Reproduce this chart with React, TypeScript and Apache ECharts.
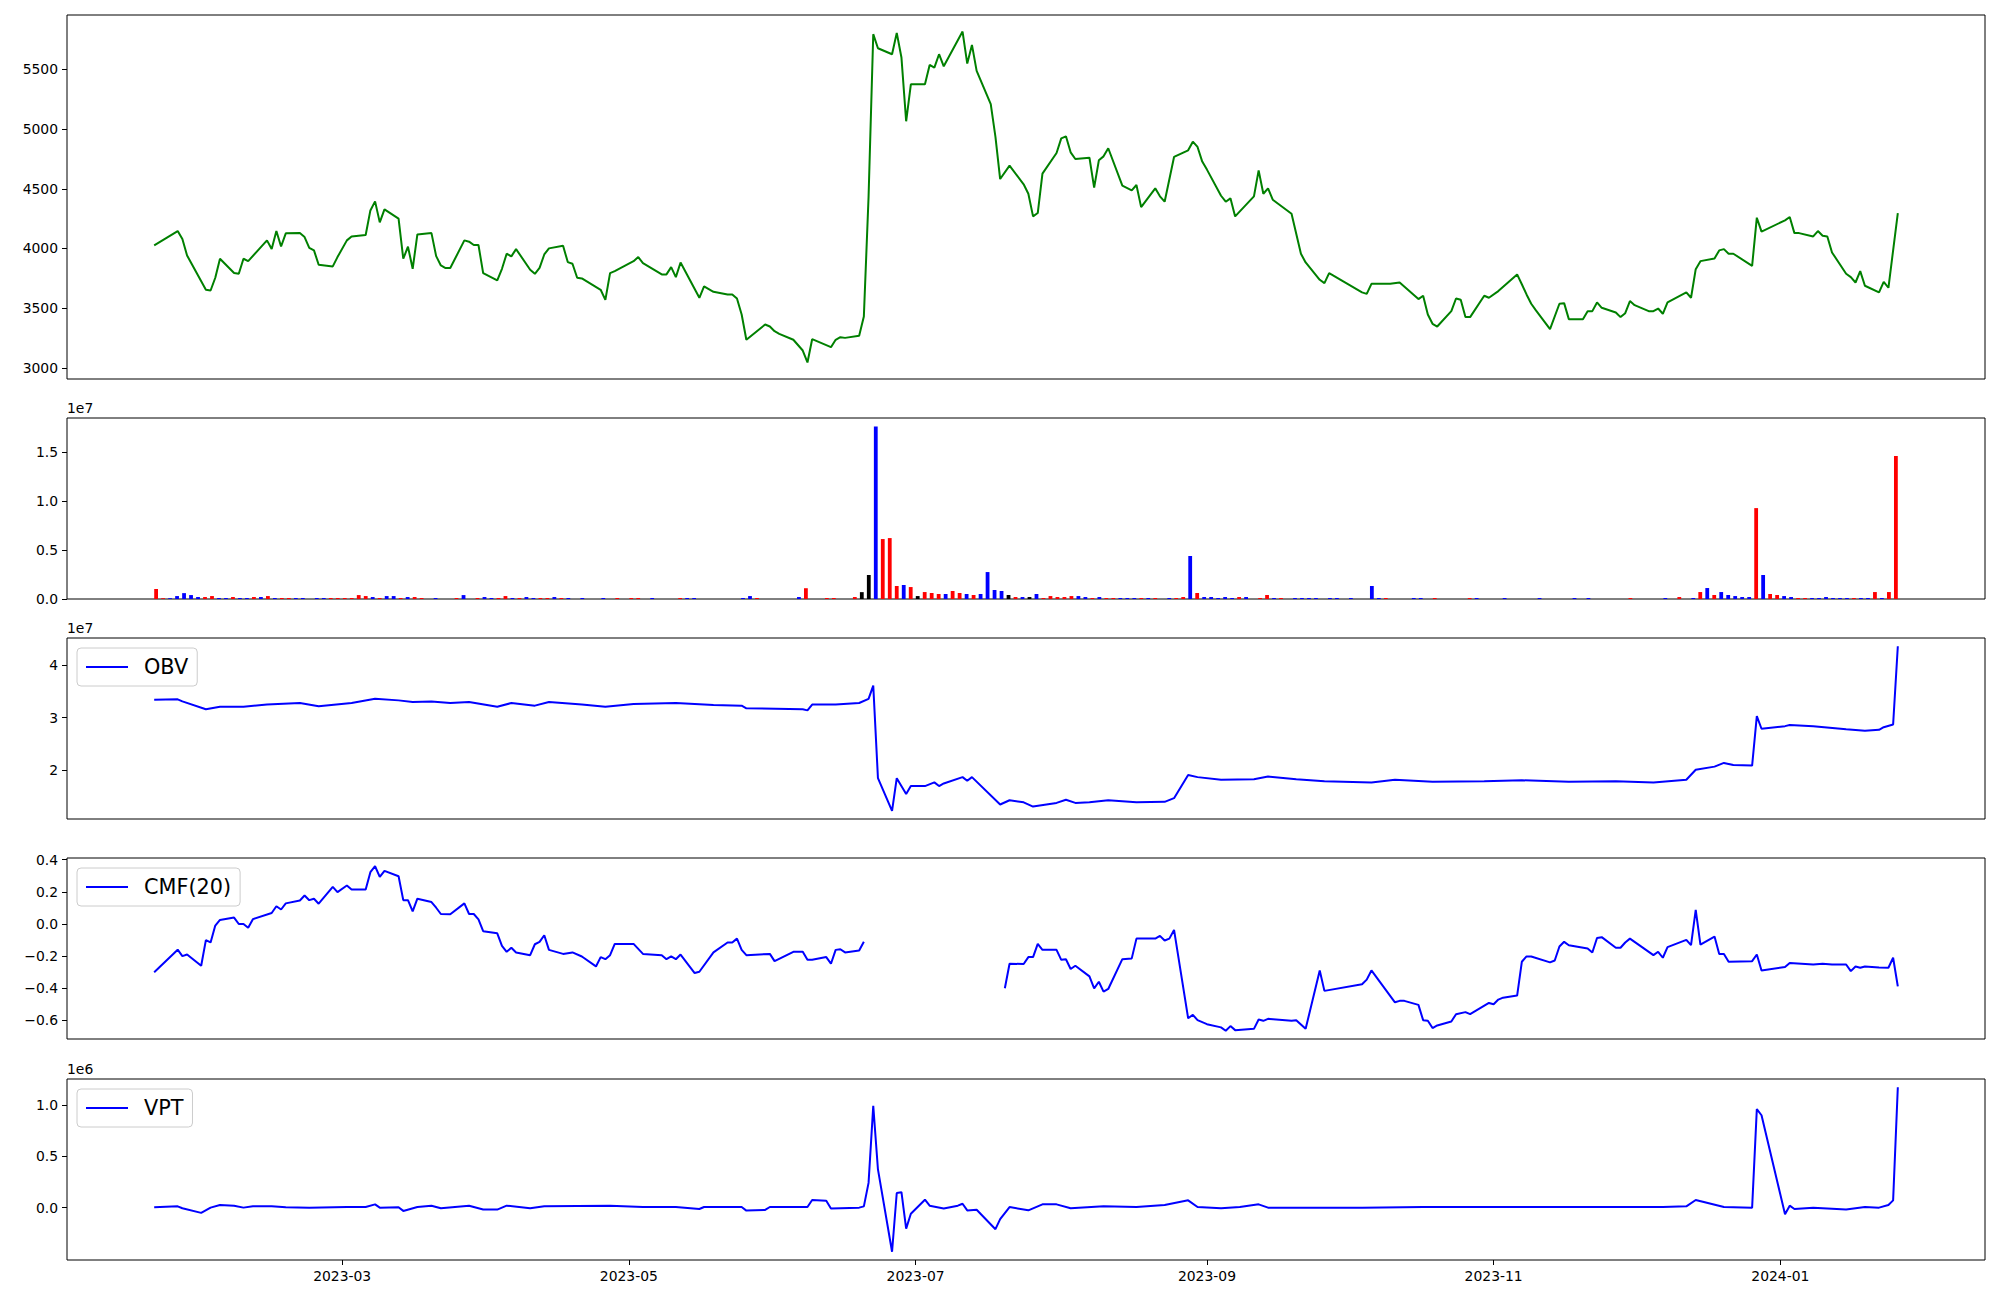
import React, { useEffect, useRef } from 'react';
import * as echarts from 'echarts';

const FONT = 'DejaVu Sans';

// ---------- DATA ----------
const PRICE: [string, number][] = [
  ['2023-01-20', 4026], ['2023-01-25', 4146], ['2023-01-26', 4079], ['2023-01-27', 3942], ['2023-01-31', 3654],
  ['2023-02-01', 3648], ['2023-02-02', 3755], ['2023-02-03', 3914], ['2023-02-06', 3794], ['2023-02-07', 3788],
  ['2023-02-08', 3914], ['2023-02-09', 3894], ['2023-02-13', 4068], ['2023-02-14', 3995], ['2023-02-15', 4146],
  ['2023-02-16', 4017], ['2023-02-17', 4127], ['2023-02-20', 4129], ['2023-02-21', 4096], ['2023-02-22', 4006],
  ['2023-02-23', 3984], ['2023-02-24', 3864], ['2023-02-27', 3850], ['2023-02-28', 3928], ['2023-03-02', 4068],
  ['2023-03-03', 4101], ['2023-03-06', 4113], ['2023-03-07', 4319], ['2023-03-08', 4395], ['2023-03-09', 4219],
  ['2023-03-10', 4328], ['2023-03-13', 4250], ['2023-03-14', 3914], ['2023-03-15', 4015], ['2023-03-16', 3830],
  ['2023-03-17', 4118], ['2023-03-20', 4129], ['2023-03-21', 3936], ['2023-03-22', 3858], ['2023-03-23', 3836],
  ['2023-03-24', 3836], ['2023-03-27', 4068], ['2023-03-28', 4057], ['2023-03-29', 4029], ['2023-03-30', 4029],
  ['2023-03-31', 3794], ['2023-04-03', 3732], ['2023-04-04', 3830], ['2023-04-05', 3956], ['2023-04-06', 3934],
  ['2023-04-07', 3995], ['2023-04-10', 3822], ['2023-04-11', 3788], ['2023-04-12', 3838], ['2023-04-13', 3950],
  ['2023-04-14', 4001], ['2023-04-17', 4023], ['2023-04-18', 3886], ['2023-04-19', 3872], ['2023-04-20', 3755],
  ['2023-04-21', 3749], ['2023-04-25', 3654], ['2023-04-26', 3570], ['2023-04-27', 3794], ['2023-04-28', 3811],
  ['2023-05-02', 3894], ['2023-05-03', 3928], ['2023-05-04', 3878], ['2023-05-08', 3783], ['2023-05-09', 3783],
  ['2023-05-10', 3844], ['2023-05-11', 3760], ['2023-05-12', 3883], ['2023-05-16', 3587], ['2023-05-17', 3682],
  ['2023-05-19', 3637], ['2023-05-22', 3615], ['2023-05-23', 3615], ['2023-05-24', 3581], ['2023-05-25', 3447],
  ['2023-05-26', 3235], ['2023-05-30', 3363], ['2023-05-31', 3346], ['2023-06-01', 3307], ['2023-06-02', 3285],
  ['2023-06-05', 3235], ['2023-06-07', 3145], ['2023-06-08', 3045], ['2023-06-09', 3240], ['2023-06-13', 3173],
  ['2023-06-14', 3235], ['2023-06-15', 3257], ['2023-06-16', 3251], ['2023-06-19', 3268], ['2023-06-20', 3430],
  ['2023-06-21', 4431], ['2023-06-22', 5796], ['2023-06-23', 5678], ['2023-06-26', 5628], ['2023-06-27', 5807],
  ['2023-06-28', 5600], ['2023-06-29', 5066], ['2023-06-30', 5376], ['2023-07-03', 5376], ['2023-07-04', 5538],
  ['2023-07-05', 5516], ['2023-07-06', 5628], ['2023-07-07', 5527], ['2023-07-11', 5818], ['2023-07-12', 5550],
  ['2023-07-13', 5706], ['2023-07-14', 5488], ['2023-07-17', 5209], ['2023-07-18', 4935], ['2023-07-19', 4582],
  ['2023-07-21', 4694], ['2023-07-24', 4538], ['2023-07-25', 4459], ['2023-07-26', 4269], ['2023-07-27', 4297],
  ['2023-07-28', 4627], ['2023-07-31', 4800], ['2023-08-01', 4923], ['2023-08-02', 4940], ['2023-08-03', 4806],
  ['2023-08-04', 4750], ['2023-08-07', 4761], ['2023-08-08', 4510], ['2023-08-09', 4739], ['2023-08-10', 4772],
  ['2023-08-11', 4840], ['2023-08-14', 4526], ['2023-08-16', 4487], ['2023-08-17', 4532], ['2023-08-18', 4347],
  ['2023-08-21', 4504], ['2023-08-22', 4437], ['2023-08-23', 4392], ['2023-08-25', 4767], ['2023-08-28', 4823],
  ['2023-08-29', 4895], ['2023-08-30', 4851], ['2023-08-31', 4728], ['2023-09-01', 4661], ['2023-09-04', 4442],
  ['2023-09-05', 4392], ['2023-09-06', 4420], ['2023-09-07', 4269], ['2023-09-11', 4437], ['2023-09-12', 4655],
  ['2023-09-13', 4459], ['2023-09-14', 4504], ['2023-09-15', 4409], ['2023-09-19', 4291], ['2023-09-21', 3956],
  ['2023-09-22', 3883], ['2023-09-25', 3738], ['2023-09-26', 3710], ['2023-09-27', 3794], ['2023-10-04', 3632],
  ['2023-10-05', 3620], ['2023-10-06', 3704], ['2023-10-10', 3704], ['2023-10-12', 3715], ['2023-10-16', 3576],
  ['2023-10-17', 3604], ['2023-10-18', 3447], ['2023-10-19', 3369], ['2023-10-20', 3346], ['2023-10-23', 3475],
  ['2023-10-24', 3581], ['2023-10-25', 3570], ['2023-10-26', 3425], ['2023-10-27', 3425], ['2023-10-30', 3604],
  ['2023-10-31', 3587], ['2023-11-02', 3643], ['2023-11-06', 3783], ['2023-11-07', 3700], ['2023-11-08', 3615],
  ['2023-11-09', 3537], ['2023-11-10', 3481], ['2023-11-13', 3324], ['2023-11-15', 3537], ['2023-11-16', 3542],
  ['2023-11-17', 3408], ['2023-11-20', 3408], ['2023-11-21', 3475], ['2023-11-22', 3475], ['2023-11-23', 3548],
  ['2023-11-24', 3503], ['2023-11-27', 3464], ['2023-11-28', 3425], ['2023-11-29', 3458], ['2023-11-30', 3559],
  ['2023-12-01', 3525], ['2023-12-04', 3475], ['2023-12-05', 3475], ['2023-12-06', 3497], ['2023-12-07', 3453],
  ['2023-12-08', 3548], ['2023-12-12', 3632], ['2023-12-13', 3587], ['2023-12-14', 3827], ['2023-12-15', 3894],
  ['2023-12-18', 3917], ['2023-12-19', 3984], ['2023-12-20', 3995], ['2023-12-21', 3956], ['2023-12-22', 3956],
  ['2023-12-26', 3855], ['2023-12-27', 4258], ['2023-12-28', 4141], ['2024-01-02', 4236], ['2024-01-03', 4264],
  ['2024-01-04', 4129], ['2024-01-05', 4129], ['2024-01-08', 4101], ['2024-01-09', 4146], ['2024-01-10', 4107],
  ['2024-01-11', 4101], ['2024-01-12', 3967], ['2024-01-15', 3788], ['2024-01-16', 3760], ['2024-01-17', 3715],
  ['2024-01-18', 3810], ['2024-01-19', 3688], ['2024-01-22', 3632], ['2024-01-23', 3721], ['2024-01-24', 3671],
  ['2024-01-26', 4297],
];

const FIRST_DAY = '2023-01-20';
const LAST_DAY = '2024-01-26';
const TRADING_DAY_COUNT = 250; // sessions from FIRST_DAY to LAST_DAY (volume panel is drawn by session index)

// Volume bars: [session index, volume, colour key]
const VOLUME: [number, number, string][] = [
  [0, 10.2e5, 'r'], [1, 0.8e5, 'r'], [2, 0.8e5, 'b'], [3, 3e5, 'b'], [4, 6e5, 'b'], [5, 4e5, 'b'], [6, 2e5, 'b'],
  [7, 2e5, 'r'], [8, 3e5, 'r'], [9, 1e5, 'b'], [10, 1e5, 'b'], [11, 2e5, 'r'], [12, 1e5, 'b'], [13, 1e5, 'b'],
  [14, 2e5, 'r'], [15, 2e5, 'b'], [16, 3e5, 'r'], [17, 1e5, 'b'], [18, 1e5, 'r'], [19, 1e5, 'r'], [20, 1e5, 'b'],
  [21, 1e5, 'b'], [23, 1e5, 'b'], [24, 1e5, 'b'], [25, 1e5, 'r'], [26, 1e5, 'r'], [27, 1e5, 'r'], [28, 1e5, 'r'],
  [29, 4e5, 'r'], [30, 3e5, 'r'], [31, 2e5, 'b'], [32, 1e5, 'r'], [33, 3e5, 'b'], [34, 3e5, 'b'], [35, 1e5, 'r'],
  [36, 2e5, 'b'], [37, 2e5, 'r'], [38, 1e5, 'r'], [40, 1e5, 'b'], [43, 1e5, 'r'], [44, 4e5, 'b'], [46, 1e5, 'r'],
  [47, 2e5, 'b'], [48, 1e5, 'b'], [49, 1e5, 'r'], [50, 3e5, 'r'], [51, 1e5, 'b'], [52, 1e5, 'r'], [53, 2e5, 'b'],
  [54, 1e5, 'b'], [55, 1e5, 'r'], [56, 1e5, 'r'], [57, 2e5, 'b'], [58, 1e5, 'r'], [59, 1e5, 'b'], [61, 1e5, 'b'],
  [64, 1e5, 'b'], [66, 1e5, 'r'], [68, 1e5, 'r'], [69, 1e5, 'r'], [71, 1e5, 'b'], [75, 1e5, 'r'], [76, 1e5, 'b'],
  [77, 1e5, 'b'], [84, 1e5, 'b'], [85, 3e5, 'b'], [86, 1e5, 'r'], [92, 2e5, 'b'], [93, 11e5, 'r'], [96, 1e5, 'r'],
  [97, 1e5, 'r'], [100, 2e5, 'r'], [101, 7e5, 'k'], [102, 24.5e5, 'k'], [103, 176e5, 'b'], [104, 61.2e5, 'r'],
  [105, 62.2e5, 'r'], [106, 13.3e5, 'r'], [107, 14.3e5, 'b'], [108, 12.2e5, 'r'], [109, 3e5, 'k'], [110, 7.1e5, 'r'],
  [111, 6.1e5, 'r'], [112, 5.1e5, 'r'], [113, 5.1e5, 'b'], [114, 8.2e5, 'r'], [115, 6.1e5, 'r'], [116, 5.1e5, 'b'],
  [117, 4.1e5, 'r'], [118, 5.1e5, 'b'], [119, 27.5e5, 'b'], [120, 9.2e5, 'b'], [121, 8.2e5, 'b'], [122, 4.1e5, 'k'],
  [123, 2e5, 'r'], [124, 2e5, 'b'], [125, 2e5, 'k'], [126, 5.1e5, 'b'], [127, 1e5, 'r'], [128, 3e5, 'r'],
  [129, 2e5, 'r'], [130, 2e5, 'r'], [131, 3e5, 'r'], [132, 3e5, 'b'], [133, 2e5, 'b'], [134, 1e5, 'r'],
  [135, 2e5, 'b'], [136, 1e5, 'r'], [137, 1e5, 'r'], [138, 1e5, 'b'], [139, 1e5, 'b'], [140, 1e5, 'b'],
  [141, 1e5, 'r'], [142, 1e5, 'b'], [143, 1e5, 'r'], [145, 1e5, 'b'], [146, 1e5, 'r'], [147, 2e5, 'r'],
  [148, 43.9e5, 'b'], [149, 6.1e5, 'r'], [150, 2e5, 'b'], [151, 2e5, 'b'], [152, 1e5, 'b'], [153, 2e5, 'b'],
  [154, 1e5, 'b'], [155, 2e5, 'r'], [156, 2e5, 'b'], [158, 1e5, 'r'], [159, 4.1e5, 'r'], [160, 1e5, 'b'],
  [161, 1e5, 'r'], [163, 1e5, 'b'], [164, 1e5, 'b'], [165, 1e5, 'b'], [166, 1e5, 'b'], [168, 1e5, 'b'],
  [169, 1e5, 'b'], [171, 1e5, 'b'], [174, 13.3e5, 'b'], [175, 1e5, 'b'], [176, 1e5, 'r'], [180, 1e5, 'b'],
  [181, 1e5, 'b'], [183, 1e5, 'r'], [188, 1e5, 'r'], [189, 1e5, 'b'], [193, 1e5, 'b'], [198, 1e5, 'b'],
  [203, 1e5, 'b'], [205, 1e5, 'b'], [211, 1e5, 'r'], [216, 1e5, 'b'], [218, 2e5, 'r'], [220, 1e5, 'b'],
  [221, 7.1e5, 'r'], [222, 11.2e5, 'b'], [223, 4.1e5, 'r'], [224, 7.1e5, 'b'], [225, 4.1e5, 'b'], [226, 3e5, 'b'],
  [227, 2e5, 'b'], [228, 2e5, 'b'], [229, 92.8e5, 'r'], [230, 24.5e5, 'b'], [231, 5.1e5, 'r'], [232, 4.1e5, 'r'],
  [233, 3e5, 'b'], [234, 2e5, 'b'], [235, 1e5, 'r'], [236, 1e5, 'r'], [237, 1e5, 'b'], [238, 1e5, 'b'],
  [239, 2e5, 'b'], [240, 1e5, 'b'], [241, 1e5, 'b'], [242, 1e5, 'b'], [243, 1e5, 'r'], [244, 1e5, 'b'],
  [245, 1e5, 'b'], [246, 7.1e5, 'r'], [247, 1e5, 'b'], [248, 7.1e5, 'r'], [249, 145.9e5, 'r'],
];
const VOLUME_COLORS: Record<string, string> = { r: '#ff0000', b: '#0000ff', k: '#000000' };

const OBV: [string, number][] = [
  ['2023-01-20', 3.34e7], ['2023-01-25', 3.35e7], ['2023-01-26', 3.31e7], ['2023-01-31', 3.16e7], ['2023-02-03', 3.21e7],
  ['2023-02-08', 3.21e7], ['2023-02-13', 3.25e7], ['2023-02-20', 3.28e7], ['2023-02-24', 3.22e7], ['2023-03-03', 3.28e7],
  ['2023-03-08', 3.36e7], ['2023-03-13', 3.33e7], ['2023-03-16', 3.30e7], ['2023-03-20', 3.31e7], ['2023-03-24', 3.28e7],
  ['2023-03-28', 3.30e7], ['2023-04-03', 3.21e7], ['2023-04-06', 3.28e7], ['2023-04-11', 3.23e7], ['2023-04-14', 3.30e7],
  ['2023-04-21', 3.25e7], ['2023-04-26', 3.21e7], ['2023-05-02', 3.26e7], ['2023-05-11', 3.28e7], ['2023-05-19', 3.24e7],
  ['2023-05-25', 3.23e7], ['2023-05-26', 3.18e7], ['2023-06-07', 3.16e7], ['2023-06-08', 3.14e7], ['2023-06-09', 3.25e7],
  ['2023-06-14', 3.25e7], ['2023-06-19', 3.28e7], ['2023-06-21', 3.36e7], ['2023-06-22', 3.61e7], ['2023-06-23', 1.85e7],
  ['2023-06-26', 1.23e7], ['2023-06-27', 1.85e7], ['2023-06-29', 1.55e7], ['2023-06-30', 1.70e7], ['2023-07-03', 1.70e7],
  ['2023-07-05', 1.77e7], ['2023-07-06', 1.70e7], ['2023-07-07', 1.75e7], ['2023-07-11', 1.87e7], ['2023-07-12', 1.80e7],
  ['2023-07-13', 1.87e7], ['2023-07-19', 1.35e7], ['2023-07-21', 1.43e7], ['2023-07-24', 1.39e7], ['2023-07-26', 1.31e7],
  ['2023-07-31', 1.38e7], ['2023-08-02', 1.44e7], ['2023-08-04', 1.38e7], ['2023-08-07', 1.39e7], ['2023-08-11', 1.43e7],
  ['2023-08-17', 1.39e7], ['2023-08-23', 1.40e7], ['2023-08-25', 1.47e7], ['2023-08-28', 1.91e7], ['2023-08-30', 1.87e7],
  ['2023-09-04', 1.82e7], ['2023-09-11', 1.83e7], ['2023-09-14', 1.88e7], ['2023-09-20', 1.83e7], ['2023-09-26', 1.79e7],
  ['2023-10-06', 1.77e7], ['2023-10-11', 1.82e7], ['2023-10-19', 1.78e7], ['2023-10-30', 1.79e7], ['2023-11-07', 1.81e7],
  ['2023-11-17', 1.78e7], ['2023-11-27', 1.79e7], ['2023-12-05', 1.77e7], ['2023-12-12', 1.82e7], ['2023-12-14', 2.01e7],
  ['2023-12-18', 2.07e7], ['2023-12-20', 2.14e7], ['2023-12-22', 2.10e7], ['2023-12-26', 2.09e7], ['2023-12-27', 3.03e7],
  ['2023-12-28', 2.79e7], ['2024-01-02', 2.84e7], ['2024-01-03', 2.86e7], ['2024-01-08', 2.84e7], ['2024-01-15', 2.78e7],
  ['2024-01-19', 2.75e7], ['2024-01-22', 2.77e7], ['2024-01-23', 2.82e7], ['2024-01-25', 2.87e7], ['2024-01-26', 4.36e7],
];

const CMF_PART1: [string, number][] = [
  ['2023-01-20', -0.30], ['2023-01-25', -0.16], ['2023-01-26', -0.20], ['2023-01-27', -0.19], ['2023-01-30', -0.26],
  ['2023-01-31', -0.10], ['2023-02-01', -0.115], ['2023-02-02', -0.01], ['2023-02-03', 0.025], ['2023-02-06', 0.04],
  ['2023-02-07', 0.0], ['2023-02-08', 0.0], ['2023-02-09', -0.023], ['2023-02-10', 0.03], ['2023-02-14', 0.068],
  ['2023-02-15', 0.11], ['2023-02-16', 0.09], ['2023-02-17', 0.128], ['2023-02-20', 0.146], ['2023-02-21', 0.177],
  ['2023-02-22', 0.148], ['2023-02-23', 0.157], ['2023-02-24', 0.126], ['2023-02-27', 0.231], ['2023-02-28', 0.198],
  ['2023-03-02', 0.239], ['2023-03-03', 0.214], ['2023-03-06', 0.214], ['2023-03-07', 0.322], ['2023-03-08', 0.359],
  ['2023-03-09', 0.293], ['2023-03-10', 0.330], ['2023-03-13', 0.297], ['2023-03-14', 0.148], ['2023-03-15', 0.148],
  ['2023-03-16', 0.078], ['2023-03-17', 0.157], ['2023-03-20', 0.136], ['2023-03-21', 0.101], ['2023-03-22', 0.062],
  ['2023-03-24', 0.060], ['2023-03-27', 0.128], ['2023-03-28', 0.062], ['2023-03-29', 0.062], ['2023-03-30', 0.029],
  ['2023-03-31', -0.045], ['2023-04-03', -0.058], ['2023-04-04', -0.136], ['2023-04-05', -0.173], ['2023-04-06', -0.148],
  ['2023-04-07', -0.177], ['2023-04-10', -0.194], ['2023-04-11', -0.126], ['2023-04-12', -0.111], ['2023-04-13', -0.070],
  ['2023-04-14', -0.161], ['2023-04-17', -0.186], ['2023-04-19', -0.177], ['2023-04-21', -0.202], ['2023-04-24', -0.264],
  ['2023-04-25', -0.206], ['2023-04-26', -0.219], ['2023-04-27', -0.194], ['2023-04-28', -0.124], ['2023-05-02', -0.124],
  ['2023-05-04', -0.186], ['2023-05-08', -0.194], ['2023-05-09', -0.219], ['2023-05-10', -0.202], ['2023-05-11', -0.219],
  ['2023-05-12', -0.190], ['2023-05-15', -0.305], ['2023-05-16', -0.297], ['2023-05-19', -0.177], ['2023-05-22', -0.115],
  ['2023-05-23', -0.115], ['2023-05-24', -0.091], ['2023-05-25', -0.161], ['2023-05-26', -0.194], ['2023-05-31', -0.186],
  ['2023-06-01', -0.231], ['2023-06-05', -0.173], ['2023-06-07', -0.173], ['2023-06-08', -0.223], ['2023-06-09', -0.223],
  ['2023-06-12', -0.206], ['2023-06-13', -0.247], ['2023-06-14', -0.161], ['2023-06-15', -0.157], ['2023-06-16', -0.177],
  ['2023-06-19', -0.165], ['2023-06-20', -0.111],
];

const CMF_PART2: [string, number][] = [
  ['2023-07-20', -0.40], ['2023-07-21', -0.247], ['2023-07-24', -0.249], ['2023-07-25', -0.206], ['2023-07-26', -0.206],
  ['2023-07-27', -0.124], ['2023-07-28', -0.161], ['2023-07-31', -0.161], ['2023-08-01', -0.223], ['2023-08-02', -0.219],
  ['2023-08-03', -0.280], ['2023-08-04', -0.260], ['2023-08-07', -0.326], ['2023-08-08', -0.400], ['2023-08-09', -0.359],
  ['2023-08-10', -0.421], ['2023-08-11', -0.404], ['2023-08-14', -0.219], ['2023-08-16', -0.214], ['2023-08-17', -0.091],
  ['2023-08-21', -0.091], ['2023-08-22', -0.074], ['2023-08-23', -0.103], ['2023-08-24', -0.091], ['2023-08-25', -0.037],
  ['2023-08-28', -0.586], ['2023-08-29', -0.565], ['2023-08-30', -0.598], ['2023-09-01', -0.623], ['2023-09-04', -0.643],
  ['2023-09-05', -0.664], ['2023-09-06', -0.635], ['2023-09-07', -0.660], ['2023-09-11', -0.652], ['2023-09-12', -0.594],
  ['2023-09-13', -0.602], ['2023-09-14', -0.590], ['2023-09-19', -0.602], ['2023-09-20', -0.598], ['2023-09-22', -0.652],
  ['2023-09-25', -0.289], ['2023-09-26', -0.416], ['2023-10-04', -0.375], ['2023-10-05', -0.346], ['2023-10-06', -0.289],
  ['2023-10-11', -0.487], ['2023-10-12', -0.478], ['2023-10-13', -0.478], ['2023-10-16', -0.503], ['2023-10-17', -0.598],
  ['2023-10-18', -0.602], ['2023-10-19', -0.647], ['2023-10-20', -0.631], ['2023-10-23', -0.606], ['2023-10-24', -0.561],
  ['2023-10-26', -0.548], ['2023-10-27', -0.561], ['2023-10-31', -0.491], ['2023-11-01', -0.499], ['2023-11-02', -0.470],
  ['2023-11-03', -0.458], ['2023-11-06', -0.445], ['2023-11-07', -0.235], ['2023-11-08', -0.202], ['2023-11-09', -0.202],
  ['2023-11-13', -0.239], ['2023-11-14', -0.227], ['2023-11-15', -0.140], ['2023-11-16', -0.111], ['2023-11-17', -0.132],
  ['2023-11-21', -0.153], ['2023-11-22', -0.177], ['2023-11-23', -0.087], ['2023-11-24', -0.082], ['2023-11-27', -0.148],
  ['2023-11-28', -0.148], ['2023-11-29', -0.115], ['2023-11-30', -0.091], ['2023-12-05', -0.194], ['2023-12-06', -0.173],
  ['2023-12-07', -0.210], ['2023-12-08', -0.144], ['2023-12-12', -0.099], ['2023-12-13', -0.132], ['2023-12-14', 0.087],
  ['2023-12-15', -0.128], ['2023-12-18', -0.078], ['2023-12-19', -0.186], ['2023-12-20', -0.186], ['2023-12-21', -0.235],
  ['2023-12-26', -0.231], ['2023-12-27', -0.190], ['2023-12-28', -0.289], ['2024-01-02', -0.268], ['2024-01-03', -0.243],
  ['2024-01-08', -0.252], ['2024-01-10', -0.247], ['2024-01-12', -0.252], ['2024-01-15', -0.252], ['2024-01-16', -0.293],
  ['2024-01-17', -0.264], ['2024-01-18', -0.272], ['2024-01-19', -0.264], ['2024-01-22', -0.270], ['2024-01-24', -0.272],
  ['2024-01-25', -0.210], ['2024-01-26', -0.388],
];

const VPT: [string, number][] = [
  ['2023-01-20', 0.003e6], ['2023-01-25', 0.013e6], ['2023-01-26', -0.006e6], ['2023-01-30', -0.051e6], ['2023-02-01', 0.0],
  ['2023-02-03', 0.026e6], ['2023-02-06', 0.019e6], ['2023-02-08', 0.0], ['2023-02-10', 0.013e6], ['2023-02-14', 0.013e6],
  ['2023-02-17', 0.003e6], ['2023-02-22', 0.0], ['2023-03-02', 0.006e6], ['2023-03-06', 0.006e6], ['2023-03-08', 0.032e6],
  ['2023-03-09', 0.0], ['2023-03-13', 0.003e6], ['2023-03-14', -0.032e6], ['2023-03-17', 0.006e6], ['2023-03-20', 0.019e6],
  ['2023-03-22', -0.006e6], ['2023-03-28', 0.019e6], ['2023-03-31', -0.019e6], ['2023-04-03', -0.019e6], ['2023-04-05', 0.019e6],
  ['2023-04-10', -0.006e6], ['2023-04-13', 0.013e6], ['2023-04-27', 0.019e6], ['2023-05-04', 0.006e6], ['2023-05-11', 0.006e6],
  ['2023-05-16', -0.013e6], ['2023-05-17', 0.006e6], ['2023-05-25', 0.006e6], ['2023-05-26', -0.029e6], ['2023-05-30', -0.022e6],
  ['2023-05-31', 0.006e6], ['2023-06-08', 0.006e6], ['2023-06-09', 0.074e6], ['2023-06-12', 0.068e6], ['2023-06-13', -0.008e6],
  ['2023-06-19', 0.0], ['2023-06-20', 0.012e6], ['2023-06-21', 0.241e6], ['2023-06-22', 0.992e6], ['2023-06-23', 0.372e6],
  ['2023-06-26', -0.43e6], ['2023-06-27', 0.143e6], ['2023-06-28', 0.150e6], ['2023-06-29', -0.204e6], ['2023-06-30', -0.060e6],
  ['2023-07-03', 0.077e6], ['2023-07-04', 0.019e6], ['2023-07-07', -0.008e6], ['2023-07-10', 0.019e6], ['2023-07-11', 0.038e6],
  ['2023-07-12', -0.027e6], ['2023-07-14', -0.021e6], ['2023-07-18', -0.210e6], ['2023-07-19', -0.112e6], ['2023-07-21', 0.006e6],
  ['2023-07-25', -0.026e6], ['2023-07-28', 0.032e6], ['2023-07-31', 0.032e6], ['2023-08-03', -0.006e6], ['2023-08-10', 0.013e6],
  ['2023-08-17', 0.006e6], ['2023-08-23', 0.026e6], ['2023-08-28', 0.071e6], ['2023-08-30', 0.006e6], ['2023-09-04', -0.006e6],
  ['2023-09-08', 0.006e6], ['2023-09-12', 0.032e6], ['2023-09-14', 0.0], ['2023-10-04', 0.0], ['2023-10-17', 0.006e6],
  ['2023-11-01', 0.006e6], ['2023-11-10', 0.006e6], ['2023-11-22', 0.006e6], ['2023-12-07', 0.006e6], ['2023-12-12', 0.013e6],
  ['2023-12-14', 0.074e6], ['2023-12-20', 0.006e6], ['2023-12-26', 0.0], ['2023-12-27', 0.96e6], ['2023-12-28', 0.90e6],
  ['2024-01-02', -0.064e6], ['2024-01-03', 0.019e6], ['2024-01-04', -0.013e6], ['2024-01-08', 0.0], ['2024-01-15', -0.019e6],
  ['2024-01-19', 0.006e6], ['2024-01-22', 0.0], ['2024-01-24', 0.026e6], ['2024-01-25', 0.071e6], ['2024-01-26', 1.173e6],
];

const X_TICK_DATES = ['2023-03-01', '2023-05-01', '2023-07-01', '2023-09-01', '2023-11-01', '2024-01-01'];
const PRICE_TICKS = [3000, 3500, 4000, 4500, 5000, 5500];
const VOLUME_TICKS = [0, 0.5e7, 1.0e7, 1.5e7];
const OBV_TICKS = [2e7, 3e7, 4e7];
const CMF_TICKS = [-0.6, -0.4, -0.2, 0.0, 0.2, 0.4];
const VPT_TICKS = [0, 0.5e6, 1.0e6];

// ---------- HELPERS ----------
const toTs = (s: string) => {
  const [y, m, d] = s.split('-').map(Number);
  return new Date(y, m - 1, d).getTime();
};

const limits = (vals: number[]) => {
  const lo = Math.min(...vals);
  const hi = Math.max(...vals);
  const pad = (hi - lo) * 0.05;
  return [lo - pad, hi + pad];
};

const minus = (s: string) => s.replace('-', '\u2212');

function buildOption() {
  const first = toTs(FIRST_DAY);
  const last = toTs(LAST_DAY);
  const span = last - first;
  const xMin = first - span * 0.05;
  const xMax = last + span * 0.05;
  const xTicks = X_TICK_DATES.map(toTs);

  // volume panel: session-index axis with matplotlib-like 5% margins around the bars
  const barHalf = 0.275;
  const idxLo = -barHalf;
  const idxHi = TRADING_DAY_COUNT - 1 + barHalf;
  const idxPad = (idxHi - idxLo) * 0.05;

  const grids = [
    { left: 67, top: 15, width: 1918, height: 364 },
    { left: 67, top: 418, width: 1918, height: 181 },
    { left: 67, top: 638, width: 1918, height: 181 },
    { left: 67, top: 858, width: 1918, height: 181 },
    { left: 67, top: 1079, width: 1918, height: 181 },
  ].map((g) => ({ ...g, show: true, borderColor: '#000', borderWidth: 1, backgroundColor: 'transparent' }));

  const tickFont = { fontFamily: FONT, fontSize: 13.9, color: '#000' };

  const xAxes = grids.map((_, i) => ({
    type: 'value',
    gridIndex: i,
    position: 'bottom',
    min: i === 1 ? idxLo - idxPad : xMin,
    max: i === 1 ? idxHi + idxPad : xMax,
    axisLine: { show: false, onZero: false },
    splitLine: { show: false },
    axisTick: { show: i === 4, length: 5, lineStyle: { color: '#000', width: 1 }, customValues: xTicks },
    axisLabel: {
      show: i === 4,
      customValues: xTicks,
      ...tickFont,
      margin: 9,
      formatter: (v: number) => {
        const d = new Date(v);
        return `${d.getFullYear()}-${String(d.getMonth() + 1).padStart(2, '0')}`;
      },
    },
  }));

  const priceLim = limits(PRICE.map((p) => p[1]));
  const maxVol = Math.max(...VOLUME.map((v) => v[1]));
  const obvLim = limits(OBV.map((p) => p[1]));
  const cmfLim = limits([...CMF_PART1, ...CMF_PART2].map((p) => p[1]));
  const vptLim = limits(VPT.map((p) => p[1]));

  const offsetName = (txt: string) => ({
    name: txt,
    nameLocation: 'end',
    nameGap: 3,
    nameTextStyle: { ...tickFont, align: 'left', verticalAlign: 'bottom' },
  });

  const yAxis = (i: number, lim: number[], ticks: number[], fmt: (v: number) => string, extra: any = {}) => ({
    type: 'value',
    gridIndex: i,
    position: 'left',
    min: lim[0],
    max: lim[1],
    axisLine: { show: false, onZero: false },
    splitLine: { show: false },
    axisTick: { show: true, length: 5, lineStyle: { color: '#000', width: 1 }, customValues: ticks },
    axisLabel: { customValues: ticks, ...tickFont, margin: 9, formatter: fmt },
    ...extra,
  });

  const yAxes = [
    yAxis(0, priceLim, PRICE_TICKS, (v) => String(Math.round(v))),
    yAxis(1, [0, maxVol * 1.05], VOLUME_TICKS, (v) => (v / 1e7).toFixed(1), offsetName('1e7')),
    yAxis(2, obvLim, OBV_TICKS, (v) => (v / 1e7).toFixed(0), offsetName('1e7')),
    yAxis(3, cmfLim, CMF_TICKS, (v) => minus((Math.abs(v) < 1e-9 ? 0 : v).toFixed(1))),
    yAxis(4, vptLim, VPT_TICKS, (v) => minus((v / 1e6).toFixed(1)), offsetName('1e6')),
  ];

  const line = (name: string, idx: number, data: [string, number][], color: string) => ({
    type: 'line',
    name,
    xAxisIndex: idx,
    yAxisIndex: idx,
    data: data.map(([d, v]) => [toTs(d), v]),
    symbol: 'none',
    showSymbol: false,
    lineStyle: { color, width: 2 },
    itemStyle: { color },
    z: 3,
  });

  const volumeData = VOLUME.map(([k, v, c]) => ({
    value: [k, v],
    itemStyle: { color: VOLUME_COLORS[c] },
  }));

  const legendBase = {
    orient: 'horizontal',
    backgroundColor: 'rgba(255,255,255,0.8)',
    borderColor: '#cccccc',
    borderWidth: 1,
    borderRadius: 4,
    padding: [7, 9, 7, 9],
    icon: 'rect',
    itemWidth: 42,
    itemHeight: 2.2,
    itemGap: 0,
    selectedMode: false,
    textStyle: { fontFamily: FONT, fontSize: 20.8, color: '#000', padding: [0, 0, 0, 11], lineHeight: 24 },
  };

  return {
    animation: false,
    backgroundColor: '#ffffff',
    grid: grids,
    xAxis: xAxes,
    yAxis: yAxes,
    legend: [
      { ...legendBase, data: ['OBV'], left: 77, top: 648 },
      { ...legendBase, data: ['CMF(20)'], left: 77, top: 868 },
      { ...legendBase, data: ['VPT'], left: 77, top: 1089 },
    ],
    series: [
      line('Close', 0, PRICE, '#008000'),
      {
        type: 'bar',
        name: 'Volume',
        xAxisIndex: 1,
        yAxisIndex: 1,
        data: volumeData,
        barWidth: 3.8,
      },
      line('OBV', 2, OBV, '#0000ff'),
      line('CMF(20)', 3, CMF_PART1, '#0000ff'),
      line('CMF(20)', 3, CMF_PART2, '#0000ff'),
      line('VPT', 4, VPT, '#0000ff'),
    ],
  };
}

export default function App() {
  const ref = useRef<HTMLDivElement>(null);
  useEffect(() => {
    if (!ref.current) return;
    const chart = echarts.init(ref.current, null, { renderer: 'svg' });
    chart.setOption(buildOption() as any);
    return () => chart.dispose();
  }, []);
  return (
    <div
      ref={ref}
      style={{ position: 'absolute', left: 0, top: 0, width: 2000, height: 1300, background: '#fff' }}
    />
  );
}
